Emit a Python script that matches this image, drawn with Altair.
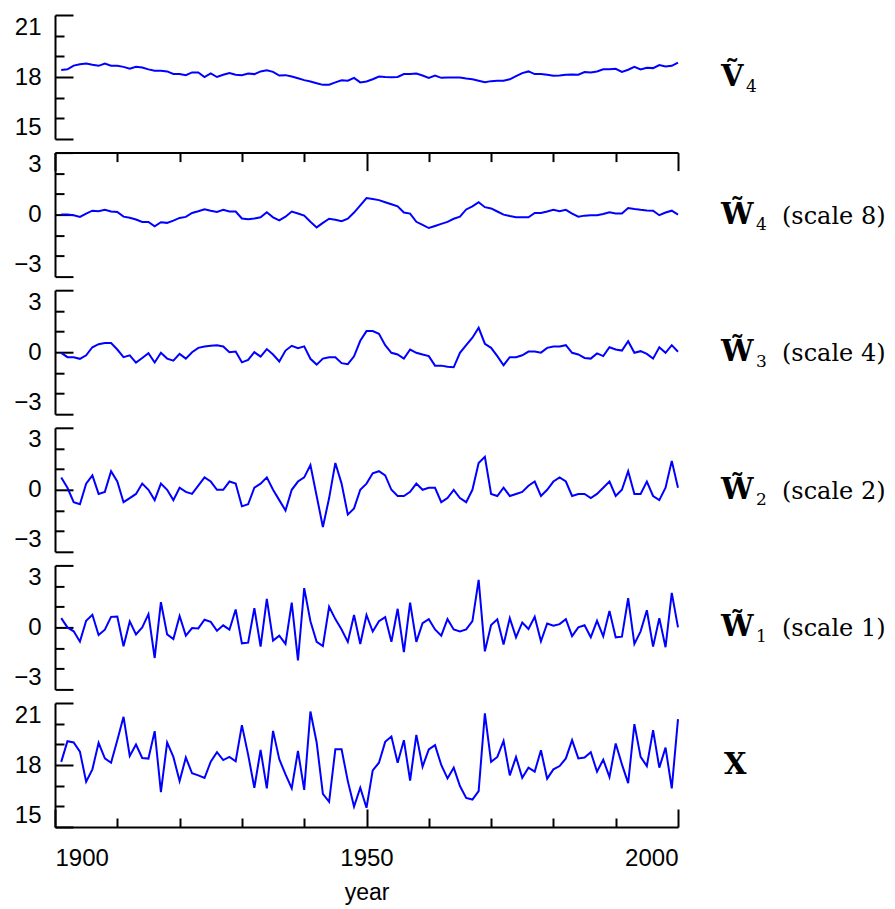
import altair as alt
import pandas as pd

years = list(range(1901, 2001))

v4 = [18.34, 18.37, 18.55, 18.62, 18.65, 18.59, 18.54, 18.65, 18.55, 18.54,
      18.49, 18.40, 18.49, 18.46, 18.37, 18.30, 18.30, 18.27, 18.15, 18.15,
      18.09, 18.22, 18.22, 18.00, 18.17, 18.00, 18.11, 18.19, 18.11, 18.09,
      18.17, 18.14, 18.27, 18.32, 18.25, 18.07, 18.09, 18.02, 17.94, 17.85,
      17.78, 17.70, 17.62, 17.63, 17.74, 17.84, 17.82, 17.96, 17.74, 17.78,
      17.89, 18.02, 18.00, 17.99, 18.00, 18.14, 18.14, 18.17, 18.07, 17.96,
      18.07, 17.96, 17.98, 17.98, 17.98, 17.93, 17.89, 17.82, 17.75, 17.80,
      17.82, 17.82, 17.89, 18.04, 18.19, 18.27, 18.14, 18.15, 18.11, 18.06,
      18.07, 18.11, 18.12, 18.11, 18.24, 18.22, 18.27, 18.37, 18.37, 18.40,
      18.25, 18.35, 18.49, 18.37, 18.45, 18.43, 18.58, 18.51, 18.54, 18.70]

w4 = [0.00, 0.00, -0.03, -0.11, 0.05, 0.19, 0.16, 0.23, 0.15, 0.13,
      -0.10, -0.15, -0.24, -0.36, -0.36, -0.57, -0.37, -0.40, -0.29, -0.16,
      -0.11, 0.08, 0.16, 0.26, 0.19, 0.13, 0.23, 0.15, 0.15, -0.19,
      -0.23, -0.19, -0.13, 0.11, -0.13, -0.28, -0.10, 0.15, 0.05, -0.05,
      -0.35, -0.62, -0.40, -0.20, -0.25, -0.32, -0.20, 0.10, 0.45, 0.80,
      0.75, 0.70, 0.60, 0.50, 0.40, 0.10, 0.05, -0.35, -0.50, -0.65,
      -0.55, -0.45, -0.35, -0.20, -0.10, 0.25, 0.40, 0.60, 0.36, 0.30,
      0.15, 0.00, -0.07, -0.13, -0.13, -0.13, 0.08, 0.08, 0.15, 0.23,
      0.16, 0.23, 0.05, -0.10, -0.05, -0.03, -0.03, 0.03, 0.11, 0.05,
      0.05, 0.32, 0.27, 0.23, 0.20, 0.19, -0.03, 0.10, 0.19, 0.00]

w3 = [-0.03, -0.24, -0.24, -0.32, -0.15, 0.24, 0.39, 0.44, 0.44, 0.13,
      -0.24, -0.15, -0.50, -0.28, -0.05, -0.50, -0.03, -0.31, -0.41, -0.08,
      -0.31, 0.00, 0.21, 0.28, 0.31, 0.34, 0.28, 0.00, 0.03, -0.49,
      -0.37, 0.00, -0.21, 0.15, -0.11, -0.45, 0.08, 0.31, 0.19, 0.28,
      -0.32, -0.60, -0.31, -0.24, -0.24, -0.53, -0.58, -0.20, 0.55, 1.02,
      1.02, 0.89, 0.34, -0.03, -0.11, -0.31, 0.13, -0.03, -0.11, -0.19,
      -0.65, -0.65, -0.70, -0.73, -0.03, 0.34, 0.70, 1.18, 0.41, 0.21,
      -0.19, -0.63, -0.24, -0.24, -0.15, 0.03, 0.03, -0.02, 0.21, 0.28,
      0.28, 0.34, -0.03, -0.11, -0.28, -0.31, -0.06, -0.19, 0.24, 0.13,
      0.08, 0.53, -0.03, 0.05, -0.08, -0.31, 0.24, -0.03, 0.34, 0.02]

w2 = [0.6, 0.1, -0.6, -0.7, 0.3, 0.7, -0.2, -0.1, 0.9, 0.4,
      -0.6, -0.4, -0.2, 0.3, 0.0, -0.5, 0.3, 0.0, -0.5, 0.1,
      -0.1, -0.2, 0.2, 0.6, 0.4, 0.0, 0.0, 0.4, 0.3, -0.8,
      -0.7, 0.1, 0.3, 0.6, 0.0, -0.5, -1.0, 0.0, 0.4, 0.6,
      1.2, -0.3, -1.8, -0.4, 1.3, 0.3, -1.2, -0.9, 0.0, 0.3,
      0.8, 0.9, 0.7, 0.0, -0.3, -0.3, -0.1, 0.3, 0.0, 0.1,
      0.1, -0.6, -0.4, 0.0, -0.4, -0.6, 0.0, 1.3, 1.6, -0.2,
      -0.3, 0.1, -0.3, -0.2, -0.1, 0.2, 0.4, -0.3, 0.0, 0.4,
      0.6, 0.4, -0.3, -0.2, -0.2, -0.4, -0.2, 0.1, 0.4, -0.3,
      0.0, 0.9, -0.2, -0.2, 0.4, -0.3, -0.5, 0.1, 1.4, 0.1]

w1 = [0.45, 0.00, -0.19, -0.69, 0.32, 0.61, -0.37, -0.11, 0.51, 0.53,
      -0.91, 0.29, -0.34, 0.00, 0.64, -1.48, 1.22, -0.34, -0.56, 0.55,
      -0.40, -0.03, -0.05, 0.37, 0.27, -0.16, 0.10, -0.11, 0.87, -0.77,
      -0.74, 0.93, -0.93, 1.38, -0.64, -0.40, -0.80, 1.20, -1.60, 1.90,
      0.30, -0.70, -0.90, 1.00, 0.40, -0.10, -0.70, 0.60, -0.80, 0.60,
      -0.20, 0.30, 0.50, -0.70, 0.90, -1.20, 1.20, -0.70, 0.20, 0.40,
      -0.10, -0.40, 0.40, -0.10, -0.20, -0.10, 0.30, 2.30, -1.16, 0.11,
      0.39, -0.83, 0.45, -0.48, 0.24, -0.08, 0.51, -0.67, 0.19, 0.08,
      0.16, 0.40, -0.42, 0.00, 0.10, -0.48, 0.32, -0.43, 0.80, -0.48,
      -0.45, 1.41, -0.80, -0.19, 0.83, -0.93, 0.45, -0.96, 1.67, 0.00]

x = [18.15, 19.15, 19.09, 18.65, 17.19, 17.79, 19.07, 18.32, 18.11, 19.20,
     20.33, 18.44, 18.99, 18.34, 18.31, 19.64, 16.69, 19.09, 18.39, 17.22,
     18.36, 17.60, 17.50, 17.37, 18.16, 18.62, 18.24, 18.39, 18.18, 19.93,
     18.50, 16.90, 18.73, 16.87, 19.65, 18.28, 17.55, 16.87, 18.68, 16.80,
     20.59, 19.09, 16.60, 16.22, 18.76, 18.76, 17.22, 15.99, 16.90, 15.93,
     17.74, 18.11, 19.12, 19.38, 18.11, 19.20, 17.25, 19.46, 17.92, 18.76,
     18.96, 18.00, 17.35, 17.87, 16.98, 16.41, 16.33, 16.74, 20.50, 18.15,
     18.39, 19.17, 17.50, 18.39, 17.38, 17.87, 17.68, 18.71, 17.34, 17.79,
     17.95, 18.32, 19.20, 18.32, 18.36, 18.62, 17.68, 18.26, 17.42, 19.04,
     18.03, 17.12, 19.98, 18.39, 17.95, 19.69, 17.87, 18.84, 16.87, 20.22]

series = [v4, w4, w3, w2, w1, x]
symbols = ["V\u0303", "W\u0303", "W\u0303", "W\u0303", "W\u0303", "X"]
subscripts = ["4", "4", "3", "2", "1", ""]
scale_notes = ["", "(scale 8)", "(scale 4)", "(scale 2)", "(scale 1)", ""]
y_domains = [[15, 21], [-3, 3], [-3, 3], [-3, 3], [-3, 3], [15, 21]]
y_ticks_level = [15, 16, 17, 18, 19, 20, 21]
y_ticks_detail = [-3, -2, -1, 0, 1, 2, 3]
y_ticks = [y_ticks_level, y_ticks_detail, y_ticks_detail, y_ticks_detail,
           y_ticks_detail, y_ticks_level]
x_ticks = list(range(1900, 2001, 10))
x_domain = [1900, 2000]

W = 623
H = 124
LABEL_FONT = "Liberation Sans"
SERIF = "DejaVu Serif"


def y_axis(ticks):
    return alt.Axis(
        values=ticks,
        labelExpr="datum.value % 3 == 0 ? datum.label : ''",
        labelFlush=True,
        labelOverlap=False,
        labelFont=LABEL_FONT,
        labelFontSize=24,
        labelColor="black",
        labelPadding=32,
        tickSize=alt.ExprRef(expr="-18"),
        tickDash={"condition": {"test": "datum.value % 3 != 0", "value": [9, 40]},
                  "value": [40, 0]},
        tickColor="black",
        tickWidth=2,
        domainColor="black",
        domainWidth=2,
        grid=False,
        title=None,
    )


def x_axis_bottom():
    return alt.Axis(
        orient="bottom",
        values=x_ticks,
        format="d",
        labelExpr="datum.value % 50 == 0 ? datum.label : ''",
        labelFlush=True,
        labelOverlap=False,
        labelFont=LABEL_FONT,
        labelFontSize=24,
        labelColor="black",
        labelPadding=37,
        tickSize=alt.ExprRef(expr="-18"),
        tickDash={"condition": {"test": "datum.value % 50 != 0", "value": [9, 40]},
                  "value": [40, 0]},
        tickColor="black",
        tickWidth=2,
        domainColor="black",
        domainWidth=2,
        grid=False,
        title="year",
        titleFont=LABEL_FONT,
        titleFontSize=23,
        titleFontWeight="normal",
        titleColor="black",
        titlePadding=11,
    )


def x_axis_top():
    return alt.Axis(
        orient="top",
        values=x_ticks,
        labels=False,
        tickSize=alt.ExprRef(expr="-18"),
        tickDash={"condition": {"test": "datum.value % 50 != 0", "value": [9, 40]},
                  "value": [40, 0]},
        tickColor="black",
        tickWidth=2,
        domainColor="black",
        domainWidth=2,
        grid=False,
        title=None,
    )


def panel(i):
    df = pd.DataFrame({"year": years, "value": series[i]})
    if i == len(series) - 1:
        xa = x_axis_bottom()
    elif i == 1:
        xa = x_axis_top()
    else:
        xa = None
    line = alt.Chart(df).mark_line(color="#0000ff", strokeWidth=2).encode(
        x=alt.X("year:Q", scale=alt.Scale(domain=x_domain, nice=False, zero=False), axis=xa),
        y=alt.Y("value:Q", scale=alt.Scale(domain=y_domains[i], nice=False, zero=False),
                axis=y_axis(y_ticks[i])),
    )
    lab = pd.DataFrame({"sym": [symbols[i]], "sub": [subscripts[i]], "note": [scale_notes[i]]})
    base = alt.Chart(lab)
    is_x = symbols[i] == "X"
    sym = base.mark_text(font=SERIF, fontWeight="bold", fontSize=29, align="left",
                         baseline="alphabetic", color="black").encode(
        x=alt.value(W + (46 if is_x else 43)), y=alt.value(H / 2 + 9), text="sym:N")
    layers = [line, sym]
    if subscripts[i]:
        sub_x = W + 68 if symbols[i].startswith("V") else W + 78
        sub = base.mark_text(font=SERIF, fontSize=17, align="left",
                             baseline="alphabetic", color="black").encode(
            x=alt.value(sub_x), y=alt.value(H / 2 + 15), text="sub:N")
        layers.append(sub)
    if scale_notes[i]:
        note = base.mark_text(font=SERIF, fontSize=24, align="left",
                              baseline="alphabetic", color="black").encode(
            x=alt.value(W + 104), y=alt.value(H / 2 + 9), text="note:N")
        layers.append(note)
    return alt.layer(*layers).properties(width=W, height=H)


chart = alt.vconcat(*[panel(i) for i in range(len(series))], spacing=13.6, bounds="flush").properties(
    padding={"left": 5, "top": 6, "right": 0, "bottom": 5}
).configure_view(stroke=None)

chart.save("out.html", embed_options={"renderer": "svg", "actions": False})
